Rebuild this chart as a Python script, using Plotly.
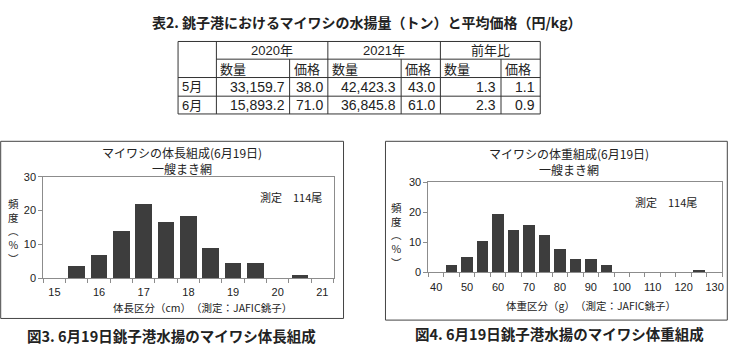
import plotly.graph_objects as go

W, H = 733, 358

# ---------------- data ----------------
table_title = "表2. 銚子港におけるマイワシの水揚量（トン）と平均価格（円/kg）"
year_headers = ["2020年", "2021年", "前年比"]
sub_headers = ["数量", "価格", "数量", "価格", "数量", "価格"]
months = ["5月", "6月"]
qty_2020 = [33159.7, 15893.2]
price_2020 = [38.0, 71.0]
qty_2021 = [42423.3, 36845.8]
price_2021 = [43.0, 61.0]
ratio_qty = [1.3, 2.3]
ratio_price = [1.1, 0.9]

length_bins = [15.0, 15.5, 16.0, 16.5, 17.0, 17.5, 18.0, 18.5, 19.0, 19.5, 20.0, 20.5, 21.0]
length_pct = [0.0, 3.5, 7.0, 14.0, 21.9, 16.7, 18.4, 8.8, 4.4, 4.4, 0.0, 0.9, 0.0]
length_ticks = [15, 16, 17, 18, 19, 20, 21]

weight_bins = [40, 45, 50, 55, 60, 65, 70, 75, 80, 85, 90, 95, 100, 105, 110, 115, 120, 125, 130]
weight_pct = [0.0, 2.6, 5.3, 10.5, 19.3, 14.0, 15.8, 12.3, 7.9, 4.4, 4.4, 2.6, 0.0, 0.0, 0.0, 0.0, 0.0, 0.9, 0.0]
weight_ticks = [40, 50, 60, 70, 80, 90, 100, 110, 120, 130]

freq_ticks = [0, 10, 20, 30]

title_len = "マイワシの体長組成(6月19日)"
title_wt = "マイワシの体重組成(6月19日)"
subtitle = "一艘まき網"
n_note = "測定　114尾"
ytitle = "頻<br>度<br>︵<br>%<br>︶"
xtitle_len = "体長区分（cm）　（測定：JAFIC銚子）"
xtitle_wt = "体重区分（g）　（測定：JAFIC銚子）"
caption_len = "図3. 6月19日銚子港水揚のマイワシ体長組成"
caption_wt = "図4. 6月19日銚子港水揚のマイワシ体重組成"

# ---------------- helpers ----------------
def px(x):
    return x / W

def py(y):
    return 1 - y / H

JP = "Noto Sans CJK JP"
MIX = "Liberation Sans, Noto Sans CJK JP"
DARK = "#222222"

fig = go.Figure()

bar_style = dict(marker=dict(color="#3d3d3d", line=dict(width=0)), showlegend=False, hoverinfo="skip")
fig.add_trace(go.Bar(x=length_bins, y=length_pct, width=0.375, xaxis="x", yaxis="y", **bar_style))
fig.add_trace(go.Bar(x=weight_bins, y=weight_pct, width=3.75, xaxis="x2", yaxis="y2", **bar_style))

axis_common = dict(showline=True, mirror=True, linecolor="#8c8c8c", linewidth=1, showgrid=False,
                   zeroline=False, tickfont=dict(family=MIX, size=11, color=DARK))

fig.update_layout(
    width=W, height=H, margin=dict(l=0, r=0, t=0, b=0),
    paper_bgcolor="white", plot_bgcolor="white", bargap=0,
    xaxis=dict(domain=[px(43.3), px(334)], range=[14.75, 21.25], anchor="y",
               tickvals=length_ticks, ticks="outside", ticklen=4, tickcolor="rgba(0,0,0,0)",
               minor=dict(ticks="outside", ticklen=4, tick0=14.75, dtick=0.5, tickcolor="#8c8c8c"),
               **axis_common),
    yaxis=dict(domain=[py(281.7), py(176.7)], range=[0, 30], anchor="x",
               tickvals=freq_ticks, ticks="outside", ticklen=4, tickcolor="#8c8c8c", **axis_common),
    xaxis2=dict(domain=[px(429), px(723.3)], range=[37.5, 132.5], anchor="y2",
                tickvals=weight_ticks, ticks="outside", ticklen=4, tickcolor="rgba(0,0,0,0)",
                minor=dict(ticks="outside", ticklen=4, tick0=37.5, dtick=5, tickcolor="#8c8c8c"),
                **axis_common),
    yaxis2=dict(domain=[py(275.7), py(182.3)], range=[0, 30], anchor="x2",
                tickvals=freq_ticks, ticks="outside", ticklen=4, tickcolor="#8c8c8c", **axis_common),
)

shapes = []
ann = []

def line(x0, y0, x1, y1, color="#333333", w=1):
    shapes.append(dict(type="line", xref="paper", yref="paper", x0=px(x0), y0=py(y0), x1=px(x1), y1=py(y1),
                       line=dict(color=color, width=w)))

def text(x, y, t, size=12, family=JP, xanchor="center", color=DARK, angle=0):
    ann.append(dict(xref="paper", yref="paper", x=px(x), y=py(y), text=t, showarrow=False,
                    xanchor=xanchor, yanchor="middle", textangle=angle,
                    font=dict(family=family, size=size, color=color)))

# ---------------- table ----------------
text(368, 17, "<b>" + table_title + "</b>", size=14)
cols = [178.3, 216.7, 290, 328.3, 401.7, 441, 501.7, 541]
rows = [36.7, 55, 74, 93.3, 111.7]
line(cols[0], rows[0], cols[-1], rows[0])
line(cols[0], rows[-1], cols[-1], rows[-1])
line(cols[0], rows[0], cols[0], rows[-1])
line(cols[-1], rows[0], cols[-1], rows[-1])
line(cols[1], rows[1], cols[-1], rows[1])
for r in rows[2:4]:
    line(cols[0], r, cols[-1], r)
for i, c in enumerate(cols[1:-1], start=1):
    if i % 2 == 1:
        line(c, rows[0], c, rows[-1])
    else:
        line(c, rows[1], c, rows[-1])

ymid = [(rows[i] + rows[i + 1]) / 2 for i in range(4)]
for k, yh in enumerate(year_headers):
    text((cols[1 + 2 * k] + cols[3 + 2 * k]) / 2, ymid[0], yh, size=13, family=MIX)
for k, sh in enumerate(sub_headers):
    text(cols[1 + k] + 2, ymid[1], sh, size=13, xanchor="left")
table_cols = [qty_2020, price_2020, qty_2021, price_2021, ratio_qty, ratio_price]
for r, m in enumerate(months):
    text(cols[0] + 2, ymid[2 + r], m, size=13, family=MIX, xanchor="left")
    for k, col in enumerate(table_cols):
        text(cols[2 + k] - 3, ymid[2 + r], f"{col[r]:,.1f}", size=14, family=MIX, xanchor="right")

# ---------------- chart boxes ----------------
for (x0, y0, x1, y1) in [(0.7, 140, 344, 323.3), (386, 140, 728.3, 325)]:
    shapes.append(dict(type="rect", xref="paper", yref="paper", x0=px(x0), y0=py(y0), x1=px(x1), y1=py(y1),
                       line=dict(color="#444444", width=1), fillcolor="rgba(0,0,0,0)"))

# left chart texts
text(182, 160, title_len + "<br>" + subtitle, size=12)
text(291, 198, n_note, size=11)
text(13.5, 233, ytitle, size=10.5)
text(203, 311.7, xtitle_len, size=10.5)
text(172, 340.5, "<b>" + caption_len + "</b>", size=14.5)

# right chart texts
text(570, 161, title_wt + "<br>" + subtitle, size=12)
text(667, 203, n_note, size=11)
text(397.5, 237, ytitle, size=10.5)
text(592, 310, xtitle_wt, size=10.5)
text(560, 338.5, "<b>" + caption_wt + "</b>", size=14.5)

fig.update_layout(shapes=shapes, annotations=ann)
fig.write_html("out.html", config={"displayModeBar": False, "staticPlot": True},
               post_script="document.body.style.margin='0';document.body.style.overflow='hidden';")
